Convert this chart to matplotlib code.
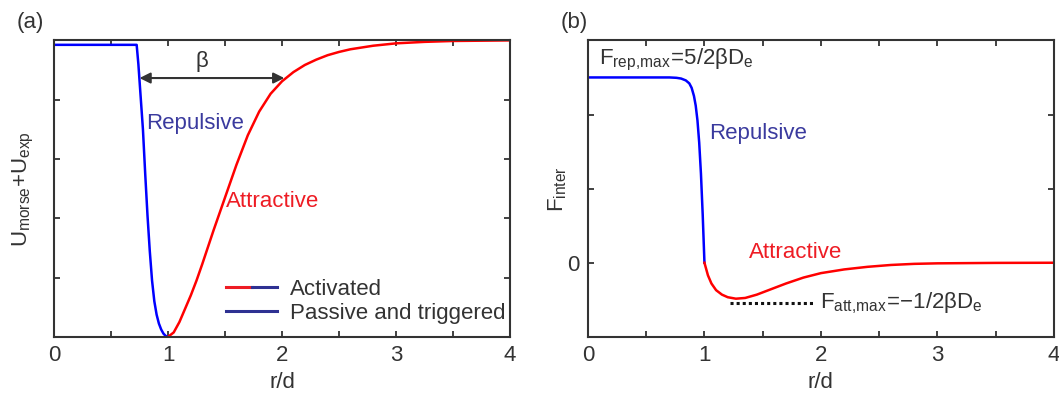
import numpy as np
import matplotlib.pyplot as plt
from matplotlib.lines import Line2D
from matplotlib.legend_handler import HandlerTuple

plt.rcParams['font.family'] = ['Liberation Sans', 'DejaVu Sans']
plt.rcParams['mathtext.fontset'] = 'custom'
plt.rcParams['mathtext.rm'] = 'Liberation Sans'
plt.rcParams['mathtext.it'] = 'Liberation Sans'

# (a) potential (arbitrary units, min = 0, plateau = 1)
r_rep_u = [0.0, 0.725, 0.74, 0.76, 0.78, 0.80, 0.82, 0.84, 0.86, 0.88, 0.90, 0.92, 0.94, 0.96, 0.98, 1.0]
u_rep = [0.985, 0.985, 0.92, 0.81, 0.70, 0.55, 0.41, 0.29, 0.19, 0.12, 0.075, 0.045, 0.025, 0.011, 0.003, 0.0]
r_att_u = [1.0, 1.05, 1.1, 1.15, 1.2, 1.25, 1.3, 1.4, 1.5, 1.6, 1.7, 1.8, 1.9, 2.0, 2.1, 2.2,
           2.3, 2.4, 2.5, 2.6, 2.8, 3.0, 3.25, 3.5, 3.75, 4.0]
u_att = [0.0, 0.015, 0.05, 0.095, 0.14, 0.19, 0.245, 0.36, 0.47, 0.58, 0.68, 0.76, 0.82, 0.862,
         0.893, 0.917, 0.935, 0.95, 0.961, 0.97, 0.982, 0.99, 0.995, 0.998, 0.999, 1.0]

# (b) force, in units of beta*De
r_rep_f = [0.0, 0.70, 0.76, 0.80, 0.84, 0.87, 0.89, 0.91, 0.925, 0.94, 0.955, 0.97, 0.985, 1.0]
f_rep = [2.5, 2.5, 2.495, 2.485, 2.46, 2.42, 2.36, 2.25, 2.12, 1.92, 1.62, 1.2, 0.65, 0.0]
r_att_f = [1.0, 1.03, 1.06, 1.1, 1.15, 1.2, 1.27, 1.35, 1.45, 1.55, 1.7, 1.85, 2.0, 2.2,
           2.4, 2.6, 2.8, 3.0, 3.5, 4.0]
f_att = [0.0, -0.17, -0.28, -0.37, -0.43, -0.465, -0.485, -0.475, -0.43, -0.37, -0.28, -0.2,
         -0.14, -0.09, -0.055, -0.03, -0.015, -0.008, -0.002, 0.0]
f_att_max = -0.54

x_ticks = np.arange(0, 4.01, 0.5)
x_labels = ['0', '', '1', '', '2', '', '3', '', '4']

BLUE = '#0000ff'
RED = '#ff0000'
TXT_BLUE = '#3a3a9e'
TXT_RED = '#ee1c24'
DARK = '#333333'
FS = 16

fig = plt.figure(figsize=(10.59, 3.94), dpi=100)
ax1 = fig.add_axes([0.051, 0.145, 0.4306, 0.7525])
ax2 = fig.add_axes([0.5552, 0.145, 0.4400, 0.7525])


def style(ax):
    for s in ax.spines.values():
        s.set_color(DARK)
        s.set_linewidth(1.5)
    ax.tick_params(direction='in', top=True, right=True, length=4.5, width=1.3,
                   colors=DARK, labelsize=FS, pad=6)
    ax.set_xlim(0, 4)
    ax.set_xticks(x_ticks)
    ax.set_xticklabels(x_labels)
    ax.set_xlabel('r/d', fontsize=FS, color=DARK)
    ax.xaxis.set_label_coords(0.5, -0.12)


# ---- (a)
ax1.plot(r_rep_u, u_rep, color=BLUE, lw=1.8)
ax1.plot(r_att_u, u_att, color=RED, lw=1.8)
ax1.set_ylim(0, 1)
ax1.set_yticks(np.arange(0, 1.01, 0.2))
ax1.set_yticklabels([])
style(ax1)
ax1.set_ylabel(r'$\mathregular{U_{morse}{+}U_{exp}}$', fontsize=FS, color=DARK)
ax1.yaxis.set_label_coords(-0.04, 0.5)

ax1.annotate('', xy=(2.02, 0.873), xytext=(0.75, 0.873),
             arrowprops=dict(arrowstyle='<|-|>', color=DARK, lw=1.5, mutation_scale=16,
                             shrinkA=0, shrinkB=0))
ax1.text(1.3, 0.93, 'β', fontsize=FS, color=DARK, ha='center', va='center')
ax1.text(0.81, 0.72, 'Repulsive', fontsize=FS, color=TXT_BLUE, ha='left', va='center')
ax1.text(1.51, 0.456, 'Attractive', fontsize=FS, color=TXT_RED, ha='left', va='center')

h_act = (Line2D([], [], color=TXT_RED, lw=2.2), Line2D([], [], color='#2e3192', lw=2.2))
h_pas = Line2D([], [], color='#2e3192', lw=2.2)
leg = ax1.legend([h_act, h_pas], ['Activated', 'Passive and triggered'],
                 handler_map={tuple: HandlerTuple(ndivide=None, pad=0)},
                 loc='lower left', bbox_to_anchor=(0.378, 0.045), frameon=False,
                 fontsize=FS, handlelength=2.3, handletextpad=0.55, labelspacing=0.12,
                 borderpad=0, borderaxespad=0)
for t in leg.get_texts():
    t.set_color(DARK)

# ---- (b)
ax2.plot(r_rep_f, f_rep, color=BLUE, lw=1.8)
ax2.plot(r_att_f, f_att, color=RED, lw=1.8)
ax2.plot([1.22, 1.93], [f_att_max, f_att_max], color='#111111', lw=2.2, ls=(0, (1, 1)))
ax2.set_ylim(-1, 3)
ax2.set_yticks([-1, 0, 1, 2, 3])
ax2.set_yticklabels(['', '0', '', '', ''])
style(ax2)
ax2.set_ylabel(r'$\mathregular{F_{inter}}$', fontsize=FS, color=DARK)
ax2.yaxis.set_label_coords(-0.04, 0.5)

ax2.text(0.095, 2.74, r'$\mathregular{F_{rep{,}max}\!{=}\!5/2βD_e}$', fontsize=FS, color=DARK,
         ha='left', va='center')
ax2.text(1.04, 1.75, 'Repulsive', fontsize=FS, color=TXT_BLUE, ha='left', va='center')
ax2.text(1.38, 0.14, 'Attractive', fontsize=FS, color=TXT_RED, ha='left', va='center')
ax2.text(1.99, -0.55, r'$\mathregular{F_{att{,}max}\!{=}\!{-}1/2βD_e}$', fontsize=FS, color=DARK,
         ha='left', va='center')

fig.text(0.029, 0.942, '(a)', fontsize=FS, color=DARK, ha='center', va='center')
fig.text(0.542, 0.942, '(b)', fontsize=FS, color=DARK, ha='center', va='center')

fig.savefig('out.png', dpi=100)
